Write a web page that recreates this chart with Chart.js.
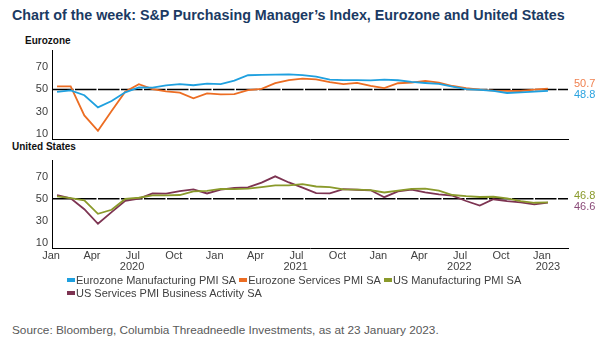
<!DOCTYPE html>
<html>
<head>
<meta charset="utf-8">
<script src="https://cdn.jsdelivr.net/npm/chart.js@4.4.1/dist/chart.umd.min.js"></script>
<style>
  body { margin: 0; width: 616px; height: 353px; background: #fff; position: relative; overflow: hidden;
         font-family: "Liberation Sans", Arial, sans-serif; }
  #title { position: absolute; left: 12px; top: 7px; font-size: 14.3px; font-weight: bold; color: #1b3a63; white-space: nowrap; }
  .panel { position: absolute; font-size: 10px; font-weight: bold; color: #111; line-height: 12px; }
  .box { position: absolute; left: 0; width: 616px; }
  #legend { position: absolute; left: 67px; top: 274px; width: 490px; font-size: 11px; color: #404040; line-height: 12.5px; }
  .item { display: inline-block; margin-right: 3px; white-space: nowrap; }
  .item i { display: inline-block; width: 8px; height: 4px; vertical-align: middle; margin-right: 1px; position: relative; top: -1px; }
  #source { position: absolute; left: 12px; top: 323px; font-size: 11.8px; color: #595959; white-space: nowrap; }
</style>
</head>
<body>
<div id="title">Chart of the week: S&amp;P Purchasing Manager’s Index, Eurozone and United States</div>
<div class="panel" style="left:25px;top:35px">Eurozone</div>
<div class="panel" style="left:12px;top:141px">United States</div>
<div class="box" style="top:40px;height:110px"><canvas id="ezChart" width="616" height="110"></canvas></div>
<div class="box" style="top:150px;height:125px"><canvas id="usChart" width="616" height="125"></canvas></div>
<div id="legend"></div>
<div id="source">Source: Bloomberg, Columbia Threadneedle Investments, as at 23 January 2023.</div>

<script>
// --- データ（月次、2020年1月〜2023年1月）---
const months = [
  '2020-01','2020-02','2020-03','2020-04','2020-05','2020-06','2020-07','2020-08','2020-09','2020-10','2020-11','2020-12',
  '2021-01','2021-02','2021-03','2021-04','2021-05','2021-06','2021-07','2021-08','2021-09','2021-10','2021-11','2021-12',
  '2022-01','2022-02','2022-03','2022-04','2022-05','2022-06','2022-07','2022-08','2022-09','2022-10','2022-11','2022-12',
  '2023-01'
];
const ezManufacturing = [47.9,49.2,44.8,33.8,39.6,47.4,51.8,51.7,53.7,54.8,53.8,55.2,
                         54.8,57.9,62.8,63.1,63.4,63.6,62.9,61.6,58.8,58.4,58.4,58.1,
                         58.8,58.3,56.8,55.8,55.0,52.5,50.3,49.7,48.7,46.8,47.3,48.0,48.8];
const ezServices = [52.8,52.8,26.6,12.8,30.5,48.0,54.7,50.3,48.2,47.2,42.0,46.5,
                    45.5,45.7,49.4,50.6,55.6,58.5,59.8,59.1,56.5,54.8,56.0,53.2,
                    51.2,55.6,56.2,57.8,56.2,53.1,51.2,49.9,49.0,48.7,48.6,49.8,50.7];
const usManufacturing = [52.2,50.7,48.7,36.3,40.0,49.9,51.0,53.2,53.2,53.5,56.9,57.2,
                         59.2,58.8,59.4,60.8,62.3,62.3,63.5,61.3,60.8,58.6,58.4,57.9,
                         55.8,57.6,59.2,59.4,57.6,53.5,52.4,51.7,51.9,50.4,48.0,46.4,46.8];
const usServices = [53.5,50.5,40.5,27.2,37.8,48.2,50.2,54.9,54.7,57.0,58.6,54.9,
                    58.5,59.9,60.5,64.8,70.6,65.0,60.2,55.3,55.0,58.8,58.3,57.8,
                    51.5,56.8,58.4,56.0,54.0,53.0,48.0,43.8,49.6,48.0,46.8,45.0,46.6];

const tickMonthLabels = ['Jan','Apr','Jul','Oct'];
const yTicks = [10, 30, 50, 70];
const refLevel = 50;

const seriesNames = ['Eurozone Manufacturing PMI SA', 'Eurozone Services PMI SA',
                     'US Manufacturing PMI SA', 'US Services PMI Business Activity SA'];
const seriesColors = ['#1fa0df', '#ec6d23', '#8a9a2b', '#7d3452'];
const endLabelColors = ['#2aa3e0', '#f08150', '#8a9a2b', '#8a4a78'];

const toPoints = arr => arr.map((v, i) => ({ x: i, y: v }));

// --- 50の基準線 ---
const refLinePlugin = {
  id: 'refLine',
  beforeDatasetsDraw(chart) {
    const { ctx, chartArea, scales } = chart;
    const y = scales.y.getPixelForValue(refLevel);
    ctx.save();
    ctx.strokeStyle = '#000';
    ctx.lineWidth = 1.5;
    ctx.setLineDash([21.5, 1.5]);
    ctx.beginPath();
    ctx.moveTo(chartArea.left, y);
    ctx.lineTo(chartArea.right, y);
    ctx.stroke();
    ctx.restore();
  }
};

// --- 右端の最新値ラベル ---
const endLabelPlugin = {
  id: 'endLabels',
  afterDatasetsDraw(chart) {
    const { ctx, chartArea, scales } = chart;
    ctx.save();
    ctx.font = '11px "Liberation Sans", Arial, sans-serif';
    ctx.textAlign = 'left';
    ctx.textBaseline = 'middle';
    chart.data.datasets.forEach(ds => {
      const last = ds.data[ds.data.length - 1].y;
      ctx.fillStyle = ds.labelColor;
      ctx.fillText(last.toFixed(1), chartArea.right + 6, scales.y.getPixelForValue(last) + ds.labelShift);
    });
    ctx.restore();
  }
};

// --- 年ラベル（下段のみ）---
const yearLabelPlugin = {
  id: 'yearLabels',
  afterDraw(chart) {
    const { ctx, chartArea, scales } = chart;
    const years = [...new Set(months.map(m => m.slice(0, 4)))];
    ctx.save();
    ctx.font = '11px "Liberation Sans", Arial, sans-serif';
    ctx.fillStyle = '#404040';
    ctx.textAlign = 'center';
    ctx.textBaseline = 'middle';
    years.forEach(yr => {
      const idx = months.map((m, i) => m.startsWith(yr) ? i : -1).filter(i => i >= 0);
      const mid = (idx[0] + idx[idx.length - 1]) / 2;
      const w = ctx.measureText(yr).width;
      let x = scales.x.getPixelForValue(mid);
      x = Math.min(x, chartArea.right - w / 2);
      ctx.fillText(yr, x, chartArea.bottom + 18.5);
    });
    ctx.restore();
  }
};

function makeOptions(showXLabels, xHeight) {
  return {
    responsive: false,
    animation: false,
    devicePixelRatio: 1,
    layout: { padding: { top: showXLabels ? 3 : 5, right: 48, left: 0, bottom: 0 } },
    plugins: { legend: { display: false }, tooltip: { enabled: false } },
    elements: { point: { radius: 0 }, line: { borderWidth: 1.8, tension: 0 } },
    scales: {
      x: {
        type: 'linear',
        min: -0.37,
        max: 37.47,
        grid: { display: false, drawTicks: false },
        border: { display: true, color: '#000', width: 1 },
        afterBuildTicks: s => { s.ticks = months.map((m, i) => i).filter(i => i % 3 === 0).map(v => ({ value: v })); },
        afterFit: s => { s.height = xHeight; },
        ticks: {
          display: showXLabels,
          autoSkip: false,
          maxRotation: 0,
          padding: 1,
          labelOffset: -6,
          color: '#404040',
          font: { family: '"Liberation Sans", Arial, sans-serif', size: 11 },
          callback: (v) => tickMonthLabels[(v / 3) % 4]
        }
      },
      y: {
        min: 5,
        max: 85,
        grid: { display: false, drawTicks: false },
        border: { display: true, color: '#000', width: 1 },
        afterBuildTicks: s => { s.ticks = yTicks.map(v => ({ value: v })); },
        afterFit: s => { s.width = 52; },
        ticks: {
          padding: 4,
          color: '#404040',
          font: { family: '"Liberation Sans", Arial, sans-serif', size: 11 }
        }
      }
    }
  };
}

function makeDataset(i, values, labelShift) {
  return {
    label: seriesNames[i],
    data: toPoints(values),
    borderColor: seriesColors[i],
    backgroundColor: seriesColors[i],
    labelColor: endLabelColors[i],
    labelShift: labelShift
  };
}

new Chart(document.getElementById('ezChart'), {
  type: 'line',
  data: { datasets: [makeDataset(0, ezManufacturing, 4.5), makeDataset(1, ezServices, -4.5)] },
  options: makeOptions(false, 8),
  plugins: [refLinePlugin, endLabelPlugin]
});

new Chart(document.getElementById('usChart'), {
  type: 'line',
  data: { datasets: [makeDataset(2, usManufacturing, -6), makeDataset(3, usServices, 4.5)] },
  options: makeOptions(true, 27),
  plugins: [refLinePlugin, endLabelPlugin, yearLabelPlugin]
});

// --- 凡例 ---
const legendDiv = document.getElementById('legend');
seriesNames.forEach((name, i) => {
  const item = document.createElement('span');
  item.className = 'item';
  const mark = document.createElement('i');
  mark.style.background = seriesColors[i];
  item.appendChild(mark);
  item.appendChild(document.createTextNode(name));
  legendDiv.appendChild(item);
});
</script>
</body>
</html>
